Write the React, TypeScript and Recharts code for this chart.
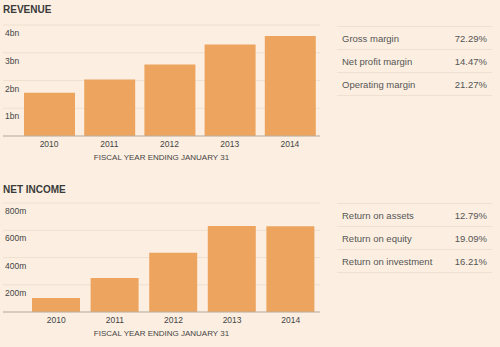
import { BarChart, Bar, XAxis, YAxis, CartesianGrid } from "recharts";

const years = ["2010", "2011", "2012", "2013", "2014"];
const revenueBn = [1.56, 2.04, 2.58, 3.3, 3.6];
const netIncomeM = [103, 250, 435, 632, 630];
const revenueTicks = [1, 2, 3, 4];
const netIncomeTicks = [200, 400, 600, 800];
const axisTitle = "FISCAL YEAR ENDING JANUARY 31";

const marginLabels = ["Gross margin", "Net profit margin", "Operating margin"];
const marginValues = ["72.29%", "14.47%", "21.27%"];
const returnLabels = ["Return on assets", "Return on equity", "Return on investment"];
const returnValues = ["12.79%", "19.09%", "16.21%"];

const BG = "#fcefe1";
const BAR = "#eda45f";
const GRID = "#efe0cf";
const AXIS = "#b9aea2";
const TEXT = "#444";
const FONT = "'Liberation Sans', Arial, sans-serif";

const revenueData = years.map((y, i) => ({ year: y, value: revenueBn[i] }));
const netData = years.map((y, i) => ({ year: y, value: netIncomeM[i] }));

function XTick({ x, y, payload }: any) {
  return (
    <text x={x} y={y} dy={11} textAnchor="middle" fontSize={8.5} fill={TEXT} fontFamily={FONT}>
      {payload.value}
    </text>
  );
}

function makeYTick(suffix: string) {
  return function YTick({ y, payload }: any) {
    return (
      <text x={5} y={y} dy={11} textAnchor="start" fontSize={8.5} fill={TEXT} fontFamily={FONT}>
        {payload.value}
        {suffix}
      </text>
    );
  };
}

function Title({ text, top }: { text: string; top: number }) {
  return (
    <div
      style={{
        position: "absolute",
        left: 3,
        top,
        fontSize: 10,
        fontWeight: "bold",
        color: "#3a3a3a",
        fontFamily: FONT,
        lineHeight: "12px",
      }}
    >
      {text}
    </div>
  );
}

function AxisTitle({ top }: { top: number }) {
  return (
    <div
      style={{
        position: "absolute",
        left: 3,
        width: 317,
        top,
        textAlign: "center",
        fontSize: 8,
        color: TEXT,
        fontFamily: FONT,
        lineHeight: "10px",
      }}
    >
      {axisTitle}
    </div>
  );
}

function StatTable({ top, labels, values }: { top: number; labels: string[]; values: string[] }) {
  return (
    <div
      style={{
        position: "absolute",
        left: 337,
        top,
        width: 155,
        borderTop: `1px solid ${GRID}`,
        fontFamily: FONT,
        fontSize: 9.5,
        color: "#555",
      }}
    >
      {labels.map((l, i) => (
        <div
          key={l}
          style={{
            display: "flex",
            justifyContent: "space-between",
            alignItems: "center",
            height: 22,
            borderBottom: `1px solid ${GRID}`,
            padding: "0 5px 0 5px",
          }}
        >
          <span>{l}</span>
          <span>{values[i]}</span>
        </div>
      ))}
    </div>
  );
}

export default function App() {
  return (
    <div
      style={{
        position: "absolute",
        left: 0,
        top: 0,
        width: 500,
        height: 347,
        background: BG,
        overflow: "hidden",
      }}
    >
      <Title text="REVENUE" top={4} />
      <div style={{ position: "absolute", left: 0, top: 0 }}>
        <BarChart
          width={330}
          height={170}
          data={revenueData}
          margin={{ top: 25, right: 10, bottom: 14, left: 0 }}
        >
          <CartesianGrid vertical={false} stroke={GRID} />
          <XAxis
            dataKey="year"
            padding={{ left: 16, right: 0 }}
            axisLine={{ stroke: AXIS }}
            tickLine={false}
            tickSize={0}
            tickMargin={0}
            tick={<XTick />}
            interval={0}
            height={20}
          />
          <YAxis
            domain={[0, 4]}
            ticks={revenueTicks}
            width={3}
            interval={0}
            axisLine={false}
            tickLine={false}
            tick={makeYTick("bn")}
          />
          <Bar dataKey="value" fill={BAR} barSize={51} isAnimationActive={false} />
        </BarChart>
      </div>
      <AxisTitle top={153} />
      <StatTable top={26} labels={marginLabels} values={marginValues} />

      <Title text="NET INCOME" top={184} />
      <div style={{ position: "absolute", left: 0, top: 170 }}>
        <BarChart
          width={330}
          height={177}
          data={netData}
          margin={{ top: 33, right: 10, bottom: 15, left: 0 }}
        >
          <CartesianGrid vertical={false} stroke={GRID} />
          <XAxis
            dataKey="year"
            padding={{ left: 24, right: 0 }}
            axisLine={{ stroke: AXIS }}
            tickLine={false}
            tickSize={0}
            tickMargin={0}
            tick={<XTick />}
            interval={0}
            height={20}
          />
          <YAxis
            domain={[0, 800]}
            ticks={netIncomeTicks}
            width={3}
            interval={0}
            axisLine={false}
            tickLine={false}
            tick={makeYTick("m")}
          />
          <Bar dataKey="value" fill={BAR} barSize={48} isAnimationActive={false} />
        </BarChart>
      </div>
      <AxisTitle top={329} />
      <StatTable top={203} labels={returnLabels} values={returnValues} />
    </div>
  );
}
